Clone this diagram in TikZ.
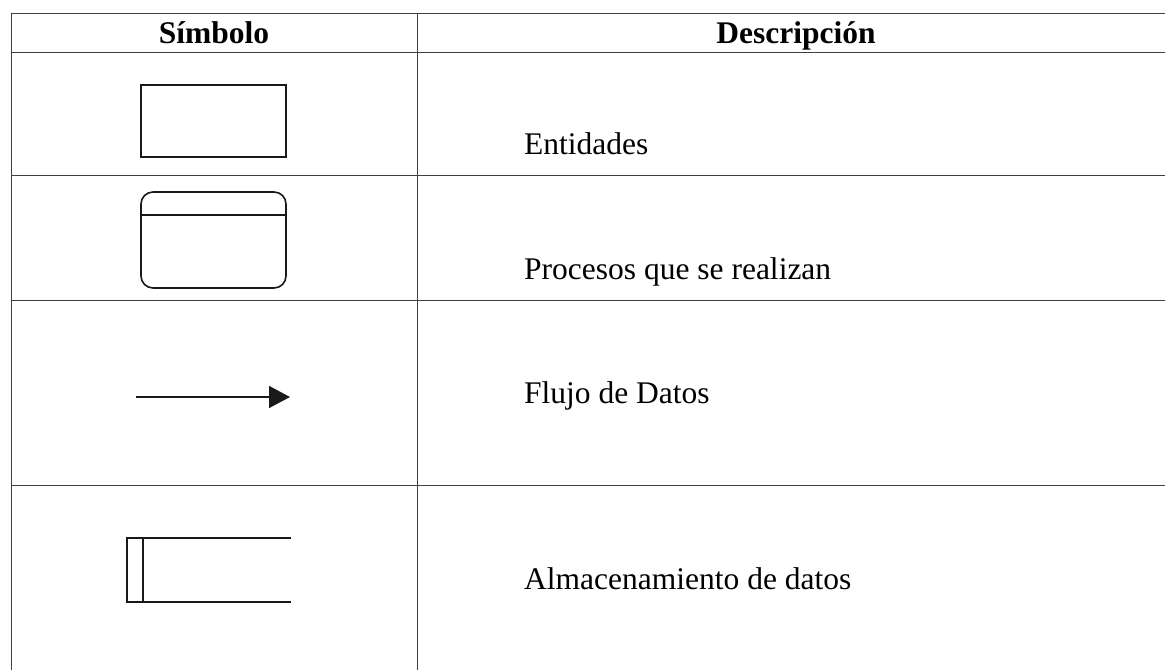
\documentclass[tikz,border=0pt]{standalone}
\usepackage{fontspec}
\setmainfont{Liberation Serif}
\usetikzlibrary{arrows.meta}

\begin{document}
\begin{tikzpicture}[x=1pt,y=-1pt]
\tikzstyle{every node}+=[inner sep=0pt]
\tikzstyle{grid}=[draw=black!75,line width=1pt]
\tikzstyle{symb}=[draw=black!90,line width=1.6pt]
\tikzstyle{head}=[font=\fontsize{31.5}{36}\selectfont\bfseries,anchor=base]
\tikzstyle{desc}=[font=\fontsize{31.5}{36}\selectfont,anchor=base west]
\useasboundingbox (0,0) rectangle (1165,670);
% table rules
\draw [grid] (11,13) -- (1165,13);
\draw [grid] (11,52) -- (1165,52);
\draw [grid] (11,175) -- (1165,175);
\draw [grid] (11,300) -- (1165,300);
\draw [grid] (11,485) -- (1165,485);
\draw [grid] (11,13) -- (11,670);
\draw [grid] (417,13) -- (417,670);
% headers
\node [head] (simbolo) at (214,43) {Símbolo};
\node [head] (descripcion) at (796,43) {Descripción};
% entidades
\draw [symb] (141,85) rectangle (286,157);
\node [desc] (entidades) at (524,154) {Entidades};
% procesos
\draw [symb,rounded corners=12pt] (141,192) rectangle (286,288);
\draw [symb] (141,215) -- (286,215);
\node [desc] (procesos) at (524,279) {Procesos que se realizan};
% flujo
\coordinate (flujoA) at (136,397);
\coordinate (flujoB) at (290,397);
\draw [symb,-{Triangle[length=21pt,width=22pt]}] (flujoA) -- (flujoB);
\node [desc] (flujo) at (524,403) {Flujo de Datos};
% almacenamiento
\draw [symb] (291,538) -- (127,538) -- (127,602) -- (291,602);
\draw [symb] (143,538) -- (143,602);
\node [desc] (almacen) at (524,589) {Almacenamiento de datos};
\end{tikzpicture}
\end{document}
